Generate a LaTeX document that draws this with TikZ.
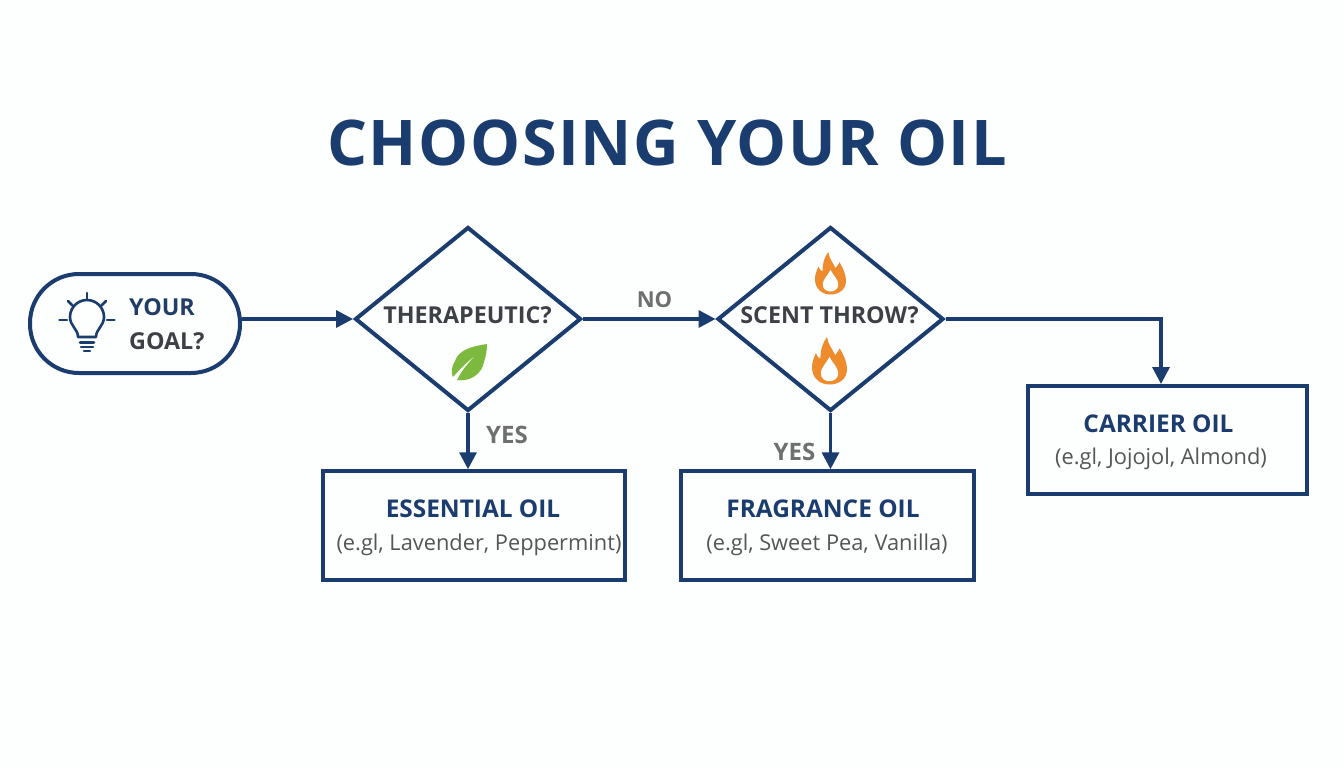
\documentclass[tikz,border=0pt]{standalone}
\usepackage{fontspec}
\setmainfont{Open Sans}[BoldFont={Open Sans Bold}]
\newfontfamily\titlefont[LetterSpace=2.5,BoldFont={Open Sans Bold}]{Open Sans}
\usetikzlibrary{shapes.geometric,arrows.meta}
\definecolor{navy}{HTML}{1A3C6E}
\definecolor{ink}{HTML}{3D4047}
\definecolor{muted}{HTML}{6F6F6F}
\definecolor{body}{HTML}{555555}
\definecolor{leafgreen}{HTML}{7DB93F}
\definecolor{flameorange}{HTML}{EE8B2D}
\definecolor{paper}{HTML}{FDFEFE}
\tikzset{
  x=1pt,y=-1pt,
  decision/.style={draw=navy,line width=4pt,shape=diamond,aspect=1.228,minimum width=226pt,minimum height=184pt,inner sep=0pt,line join=miter},
  outcome/.style={draw=navy,line width=3.5pt,rectangle,inner sep=0pt},
  startpill/.style={draw=navy,line width=4pt,rectangle,rounded corners=49pt,minimum width=210pt,minimum height=99pt,inner sep=0pt},
  flow/.style={draw=navy,line width=3.4pt,-{Triangle[length=17pt,width=17pt]}},
  asklabel/.style={font=\fontsize{23.3}{27}\selectfont\bfseries,text=ink,inner sep=0pt},
  headlabel/.style={font=\fontsize{24.4}{28}\selectfont\bfseries,text=navy,inner sep=0pt},
  sublabel/.style={font=\fontsize{21.8}{26}\selectfont,text=body,inner sep=0pt},
  branchlabel/.style={font=\fontsize{24}{28}\selectfont\bfseries,text=muted,inner sep=0pt},
  bulbline/.style={draw=navy,line width=2.6pt,line cap=round,line join=round},
}
\newcommand{\flameicon}[4]{%
  \begin{scope}[shift={(#1,#2)},x=#3pt,y=#4pt]
    \fill[flameorange,even odd rule]
      (-0.07,1) .. controls (-0.05,0.85) and (0.08,0.75) .. (0.16,0.62)
      .. controls (0.21,0.66) and (0.25,0.7) .. (0.29,0.76)
      .. controls (0.42,0.6) and (0.5,0.46) .. (0.5,0.32)
      .. controls (0.5,0.12) and (0.27,0) .. (0,0)
      .. controls (-0.28,0) and (-0.5,0.14) .. (-0.5,0.36)
      .. controls (-0.5,0.47) and (-0.45,0.56) .. (-0.39,0.66)
      .. controls (-0.36,0.6) and (-0.32,0.56) .. (-0.26,0.54)
      .. controls (-0.26,0.72) and (-0.2,0.88) .. (-0.07,1) -- cycle;
    \fill[paper]
      (0,0.58) .. controls (0.08,0.46) and (0.25,0.35) .. (0.25,0.24)
      .. controls (0.25,0.12) and (0.12,0.07) .. (0,0.07)
      .. controls (-0.12,0.07) and (-0.25,0.12) .. (-0.25,0.24)
      .. controls (-0.25,0.35) and (-0.08,0.46) .. (0,0.58) -- cycle;
  \end{scope}}
\begin{document}
\begin{tikzpicture}
\useasboundingbox (0,0) rectangle (1344,768);
\fill[paper] (0,0) rectangle (1344,768);

\node[font=\fontsize{63}{70}\selectfont\titlefont\bfseries,text=navy,inner sep=0pt] (title) at (667,143) {CHOOSING YOUR OIL};

\node[startpill] (goal) at (135,323.5) {};
\node[decision] (therapeutic) at (468,319) {};
\node[decision] (scent) at (830.5,319) {};
\node[outcome,minimum width=302pt,minimum height=109pt] (essential) at (474,525.5) {};
\node[outcome,minimum width=293pt,minimum height=109pt] (fragrance) at (827.5,525.5) {};
\node[outcome,minimum width=279pt,minimum height=108pt] (carrier) at (1167.5,440) {};

% texts
\node[asklabel,text=navy!80!ink,anchor=west] (your) at (129,307.5) {YOUR};
\node[asklabel,anchor=west] (goaltext) at (129,341) {GOAL?};
\node[asklabel] (ther) at (467.5,315.5) {THERAPEUTIC?};
\node[asklabel] (sc) at (829.5,315.5) {SCENT THROW?};
\node[font=\fontsize{22}{26}\selectfont\bfseries,text=muted,inner sep=0pt] (no) at (654.5,299.5) {NO};
\node[branchlabel] (yes1) at (507,434.5) {YES};
\node[branchlabel] (yes2) at (794.5,451.5) {YES};
\node[headlabel] (h1) at (473,509) {ESSENTIAL OIL};
\node[sublabel] (s1) at (479,544.5) {(e.gl, Lavender, Peppermint)};
\node[headlabel] (h2) at (823,509) {FRAGRANCE OIL};
\node[sublabel] (s2) at (827,544.5) {(e.gl, Sweet Pea, Vanilla)};
\node[headlabel] (h3) at (1158.5,424) {CARRIER OIL};
\node[sublabel] (s3) at (1161,458.5) {(e.gl, Jojojol, Almond)};

% connectors
\draw[flow] (goal.east |- therapeutic.west) -- (therapeutic.west);
\draw[flow] (therapeutic.east) -- (scent.west);
\draw[flow] (therapeutic.south) -- (therapeutic.south |- essential.north);
\draw[flow] (scent.south) -- (scent.south |- fragrance.north);
\coordinate (carriertop) at (1161,384);
\draw[flow] (scent.east) -| (carriertop);

% bulb
\begin{scope}[shift={(87,320)}]
  \draw[bulbline] (-9,17) .. controls (-9,9) and (-17,6) .. (-17,-3)
     arc[start angle=180,end angle=360,radius=17]
     .. controls (17,6) and (9,9) .. (9,17) -- cycle;
  \draw[bulbline] (-7,22.5) -- (7,22.5);
  \draw[bulbline] (-6,27) -- (6,27);
  \draw[bulbline] (-3,31) -- (3,31);
  \draw[bulbline] (0,-27) -- (0,-20);
  \draw[bulbline] (-19,-19) -- (-14.5,-14.5);
  \draw[bulbline] (19,-19) -- (14.5,-14.5);
  \draw[bulbline] (-27.5,0) -- (-20,0);
  \draw[bulbline] (27.5,0) -- (20,0);
\end{scope}

% leaf
\fill[leafgreen] (487,344) .. controls (474,346) and (459,349) .. (455,361)
  .. controls (451,367) and (451,374) .. (453,377)
  .. controls (460,369) and (468,361) .. (476,355)
  .. controls (469,362) and (462,370) .. (457,380)
  .. controls (470,382) and (482,374) .. (484,362)
  .. controls (486,356) and (487,350) .. (487,344) -- cycle;

% flames
\flameicon{830.5}{294.5}{31}{42.5}
\flameicon{829.5}{384.5}{35}{47.5}
\end{tikzpicture}
\end{document}
